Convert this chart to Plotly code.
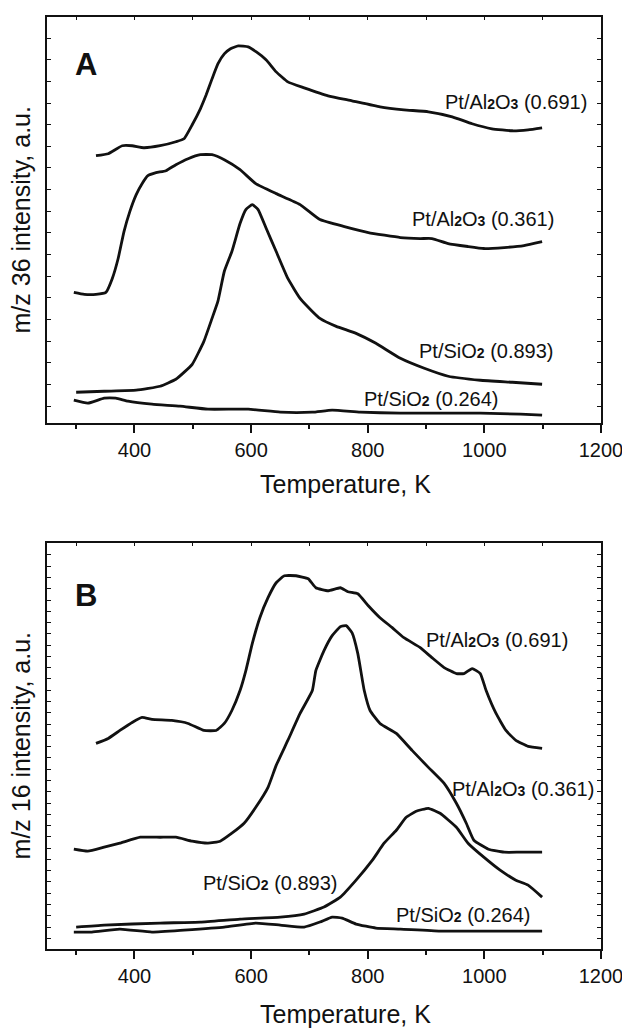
import plotly.graph_objects as go

# Temperature (K) and intensity (a.u., arbitrary scale)
# Panel A: m/z 36
a691_T = [334, 355, 379, 396, 416, 444, 471, 485, 499, 513, 523, 533, 543, 554, 564, 578, 595, 609, 626, 643,
          663, 691, 732, 773, 821, 862, 904, 945, 979, 1013, 1048, 1075, 1099]
a691_h = [268, 270, 278, 278, 276, 278, 282, 285, 299, 315, 329, 345, 360, 370, 375, 378, 377, 372, 364, 352,
          342, 336, 328, 323, 317, 314, 312, 307, 300, 295, 293, 294, 296]

a361_T = [296, 314, 334, 351, 362, 372, 382, 392, 403, 413, 423, 437, 454, 471, 492, 513, 533, 554, 581, 608,
          643, 684, 718, 760, 801, 856, 890, 910, 938, 972, 999, 1034, 1068, 1099]
a361_h = [131, 129, 129, 131, 145, 165, 192, 212, 229, 240, 248, 251, 253, 259, 265, 269, 269, 264, 254, 240,
          230, 219, 204, 197, 191, 186, 185, 185, 180, 177, 175, 176, 178, 182]

a893_T = [300, 348, 403, 444, 471, 499, 519, 533, 543, 554, 567, 581, 591, 602, 612, 626, 643, 663, 684, 705,
          718, 746, 780, 814, 856, 897, 938, 993, 1048, 1099]
a893_h = [31, 32, 33, 37, 44, 59, 82, 105, 122, 152, 172, 200, 214, 219, 214, 195, 172, 145, 125, 112,
          105, 97, 90, 80, 65, 55, 47, 43, 41, 39]

a264_T = [296, 320, 348, 368, 389, 430, 478, 526, 595, 650, 705, 739, 787, 856, 924, 993, 1062, 1099]
a264_h = [23, 20, 25, 25, 22, 19, 17, 14, 14, 11, 11, 13, 11, 10, 10, 10, 9, 8]

# Panel B: m/z 16
b691_T = [334, 355, 375, 396, 413, 430, 464, 492, 519, 540, 554, 567, 581, 591, 602, 615, 629, 643, 657, 677,
          698, 711, 732, 753, 766, 783, 801, 821, 842, 862, 890, 910, 931, 952, 965, 979, 993, 1003, 1020, 1037,
          1054, 1075, 1099]
b691_h = [206, 211, 219, 227, 232, 230, 229, 226, 219, 219, 226, 239, 259, 279, 306, 332, 352, 367, 374, 374,
          371, 362, 359, 362, 358, 356, 344, 332, 322, 312, 302, 292, 282, 276, 276, 281, 276, 259, 236, 219,
          209, 203, 201]

b361_T = [296, 320, 348, 375, 410, 444, 471, 499, 526, 547, 567, 588, 608, 629, 643, 663, 684, 705, 711, 725,
          739, 753, 763, 773, 783, 794, 804, 821, 849, 876, 904, 931, 952, 969, 982, 1007, 1034, 1061, 1099]
b361_h = [100, 98, 102, 106, 112, 112, 112, 108, 106, 108, 116, 126, 142, 162, 184, 209, 236, 259, 279, 299,
          314, 323, 324, 317, 296, 259, 239, 226, 216, 199, 182, 166, 146, 126, 109, 100, 97, 97, 97]

b893_T = [300, 348, 444, 513, 581, 650, 691, 725, 753, 780, 808, 828, 849, 866, 883, 904, 924, 952, 972, 999,
          1027, 1054, 1075, 1099]
b893_h = [22, 24, 26, 27, 30, 32, 35, 42, 52, 69, 89, 106, 119, 132, 138, 141, 136, 122, 106, 92,
          79, 69, 64, 52]

b264_T = [296, 327, 375, 430, 485, 554, 608, 650, 691, 718, 739, 756, 780, 814, 856, 924, 993, 1099]
b264_h = [17, 17, 20, 17, 19, 22, 26, 24, 22, 27, 32, 31, 25, 21, 20, 18, 18, 18]

sub = "<span style='font-size:14px;font-weight:bold'>%s</span>"
label_al691 = "Pt/Al" + sub % "2" + "O" + sub % "3" + " (0.691)"
label_al361 = "Pt/Al" + sub % "2" + "O" + sub % "3" + " (0.361)"
label_si893 = "Pt/SiO" + sub % "2" + " (0.893)"
label_si264 = "Pt/SiO" + sub % "2" + " (0.264)"

FONT = "Liberation Sans, Arial, sans-serif"
INK = "#111111"

fig = go.Figure()

panels = [
    ("x", "y", [(a691_T, a691_h), (a361_T, a361_h), (a893_T, a893_h), (a264_T, a264_h)]),
    ("x2", "y2", [(b691_T, b691_h), (b361_T, b361_h), (b893_T, b893_h), (b264_T, b264_h)]),
]
for xa, ya, curves in panels:
    for T, h in curves:
        fig.add_trace(go.Scatter(x=T, y=h, mode="lines", xaxis=xa, yaxis=ya,
                                 line=dict(color=INK, width=2.8, shape="spline", smoothing=0.4),
                                 showlegend=False, hoverinfo="skip"))

# invisible traces so the top tick axes get drawn
fig.add_trace(go.Scatter(x=[a691_T[0]], y=[a691_h[0]], xaxis="x3", yaxis="y", mode="markers",
                         marker=dict(opacity=0), showlegend=False, hoverinfo="skip"))
fig.add_trace(go.Scatter(x=[b691_T[0]], y=[b691_h[0]], xaxis="x4", yaxis="y2", mode="markers",
                         marker=dict(opacity=0), showlegend=False, hoverinfo="skip"))

xrange = [250, 1200]
yrange = [0, 407]


def xaxis(anchor):
    return dict(anchor=anchor, domain=[0, 1], range=xrange, tick0=0, dtick=200,
                ticks="outside", ticklen=8, tickwidth=1.5, tickcolor=INK,
                minor=dict(dtick=100, tick0=0, ticks="outside", ticklen=4, tickwidth=1.5, tickcolor=INK),
                showline=True, linewidth=2, linecolor=INK, mirror=True,
                showgrid=False, zeroline=False,
                tickfont=dict(family=FONT, size=20, color=INK))


def topaxis(over, anchor):
    return dict(overlaying=over, anchor=anchor, side="top", range=xrange, tick0=0, dtick=100,
                ticks="inside", ticklen=3, tickwidth=1, tickcolor=INK,
                showticklabels=False, showline=False, showgrid=False, zeroline=False)


def yaxis(domain, tick0, dtick):
    return dict(domain=domain, range=yrange, tick0=tick0, dtick=dtick,
                ticks="inside", ticklen=4, tickwidth=1, tickcolor=INK,
                showticklabels=False, showline=True, linewidth=2, linecolor=INK, mirror="ticks",
                showgrid=False, zeroline=False)


# the page body adds an 8px margin, so the figure is 8px smaller than the window
fig.update_layout(
    width=622, height=1021,
    margin=dict(l=39, r=26, t=7, b=80),
    paper_bgcolor="white", plot_bgcolor="white",
    font=dict(family=FONT, color=INK),
    xaxis=xaxis("y"),
    yaxis=yaxis([0.5642, 1.0], 17, 21.7),
    xaxis2=xaxis("y2"),
    yaxis2=yaxis([0.0, 0.4358], 10.7, 11.3),
    xaxis3=topaxis("x", "y"),
    xaxis4=topaxis("x2", "y2"),
)

annotations = []
# curve labels
for xa, ya, items in [
    ("x", "y", [(label_al691, 1180, 322), (label_al361, 1122, 205), (label_si893, 1122, 72), (label_si264, 1028, 24)]),
    ("x2", "y2", [(label_al691, 1146, 310), (label_al361, 1192, 160), (label_si893, 752, 66), (label_si264, 1084, 34)]),
]:
    for text, tx, ty in items:
        annotations.append(dict(text=text, x=tx, y=ty, xref=xa, yref=ya, xanchor="right", yanchor="middle",
                                showarrow=False, font=dict(family=FONT, size=20, color=INK)))

# panel letters
annotations.append(dict(text="<b>A</b>", x=295, y=359, xref="x", yref="y", xanchor="left", yanchor="middle",
                        showarrow=False, font=dict(family=FONT, size=31, color=INK)))
annotations.append(dict(text="<b>B</b>", x=295, y=354, xref="x2", yref="y2", xanchor="left", yanchor="middle",
                        showarrow=False, font=dict(family=FONT, size=31, color=INK)))

# axis titles
for text, y in [("m/z 36 intensity, a.u.", 0.7827), ("m/z 16 intensity, a.u.", 0.2184)]:
    annotations.append(dict(text=text, x=-0.047, y=y, xref="paper", yref="paper", textangle=-90,
                            xanchor="center", yanchor="middle", showarrow=False,
                            font=dict(family=FONT, size=25, color=INK)))
for y in [0.4986, -0.0695]:
    annotations.append(dict(text="Temperature, K", x=0.539, y=y, xref="paper", yref="paper",
                            xanchor="center", yanchor="middle", showarrow=False,
                            font=dict(family=FONT, size=25, color=INK)))

fig.update_layout(annotations=annotations)

fig.write_html("out.html")
